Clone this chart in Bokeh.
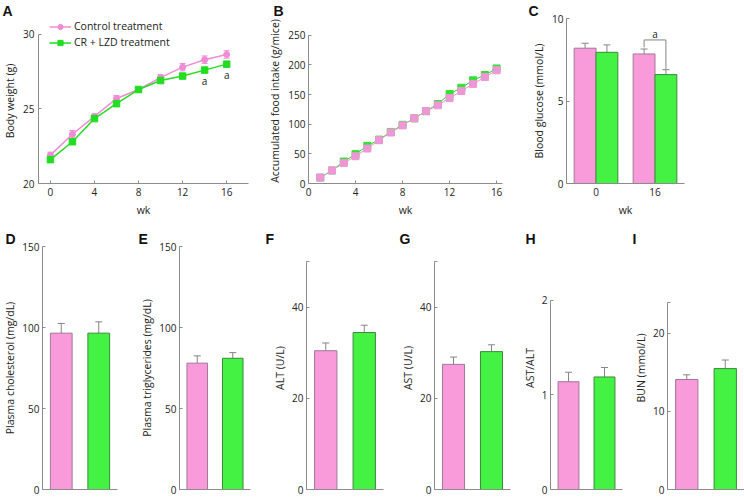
from bokeh.plotting import figure
from bokeh.layouts import column, row
from bokeh.models import (ColumnDataSource, FactorRange, Range1d, FixedTicker,
                          Whisker, TeeHead, Legend, LegendItem, LinearAxis)
from bokeh.transform import dodge
from bokeh.core.properties import value
from bokeh.embed import file_html
from bokeh.resources import INLINE

# ---------------- data ----------------
# Panel A: body weight
wk_a = [0, 2, 4, 6, 8, 10, 12, 14, 16]
bw_ctrl = [21.9, 23.3, 24.5, 25.7, 26.3, 27.1, 27.8, 28.3, 28.65]
bw_ctrl_err = [0.2, 0.25, 0.15, 0.2, 0.1, 0.2, 0.25, 0.25, 0.25]
bw_cr = [21.6, 22.8, 24.35, 25.35, 26.3, 26.9, 27.2, 27.6, 28.0]
bw_cr_err = [0.15, 0.1, 0.1, 0.1, 0.1, 0.1, 0.1, 0.1, 0.1]
sig_wk_a = [14, 16]
sig_cr_a = [27.6, 28.0]

# Panel B: accumulated food intake
wk_b = [1, 2, 3, 4, 5, 6, 7, 8, 9, 10, 11, 12, 13, 14, 15, 16]
food_ctrl = [10, 22, 34.5, 46, 59, 73, 86, 98, 110, 122, 132, 144, 156, 168, 179.5, 191]
food_cr = [10, 22, 37, 49.5, 63.5, 74, 87, 99, 110, 122, 134, 151, 161.5, 174, 183, 194]

# Panel C: blood glucose
glu_wk = ["0", "16"]
glu_ctrl = [8.2, 7.85]
glu_ctrl_err = [0.3, 0.3]
glu_cr = [7.95, 6.6]
glu_cr_err = [0.45, 0.3]

# Panels D-I
groups = ["Control treatment", "CR + LZD treatment"]
chol = [96.5, 96.5]
chol_err = [6.0, 7.0]
tg = [78.0, 81.0]
tg_err = [4.5, 3.5]
alt = [30.5, 34.5]
alt_err = [1.7, 1.6]
ast = [27.5, 30.3]
ast_err = [1.6, 1.5]
ratio = [1.14, 1.19]
ratio_err = [0.1, 0.1]
bun = [14.1, 15.5]
bun_err = [0.6, 1.1]

# ---------------- style ----------------
FONT = "Open Sans"
LETTER_FONT = "Liberation Sans"
PINK = "#F99ADB"
PINK_LINE = "#F08CD4"
PINK_EDGE = "#A07896"
GREEN = "#44F244"
GREEN_LINE = "#22DD22"
GREEN_EDGE = "#3A8A3A"
AXIS = "#8C8C8C"
ERR = "#858585"
TXT = "#222222"


def style_axis(ax):
    ax.axis_line_color = AXIS
    ax.major_tick_line_color = AXIS
    ax.minor_tick_line_color = None
    ax.major_tick_in = 3
    ax.major_tick_out = 0
    ax.major_label_text_font = FONT
    ax.major_label_text_font_size = "10px"
    ax.major_label_text_color = TXT
    ax.axis_label_text_font = FONT
    ax.axis_label_text_font_size = "10.5px"
    ax.axis_label_text_font_style = "normal"
    ax.axis_label_text_color = TXT
    ax.major_label_standoff = 3
    ax.axis_label_standoff = 3


def new_fig(w, h, l, r, t, b, xr, yr, x_axis=True):
    kw = {} if x_axis else {"x_axis_type": None}
    p = figure(width=w, height=h, x_range=xr, y_range=yr, output_backend="svg",
               toolbar_location=None, min_border_left=l, min_border_right=r,
               min_border_top=t, min_border_bottom=b, **kw)
    p.grid.visible = False
    p.outline_line_color = None
    p.background_fill_color = "white"
    p.border_fill_color = "white"
    for ax in p.axis:
        style_axis(ax)
    return p


def letter(p, txt, off):
    p.title.text = txt
    p.title.align = "left"
    p.title.offset = off
    p.title.standoff = 0
    p.title.text_font = LETTER_FONT
    p.title.text_font_size = "14px"
    p.title.text_font_style = "bold"
    p.title.text_color = "#111111"


def add_whisker(p, src, base, lower, upper, color=ERR, both=False, size=7):
    w = Whisker(source=src, base=base, lower=lower, upper=upper,
                line_color=color, line_width=1,
                upper_head=TeeHead(size=size, line_color=color, line_width=1),
                lower_head=TeeHead(size=size, line_color=color, line_width=1) if both else None)
    p.add_layout(w)


ROW1_H, ROW1_T, ROW1_B = 228, 16, 45
ROW2_H, ROW2_T, ROW2_B = 271, 18, 10

# ---------------- Panel A ----------------
pA = new_fig(250, ROW1_H, 36, 2, ROW1_T, ROW1_B, Range1d(-1.08, 17.98), Range1d(20, 31.06))
pA.yaxis.ticker = FixedTicker(ticks=[20, 25, 30])
pA.yaxis.bounds = (20, 30)
pA.yaxis.axis_label = "Body weight (g)"
pA.yaxis.major_label_standoff = 4
pA.xaxis.ticker = FixedTicker(ticks=[0, 4, 8, 12, 16])
pA.xaxis.axis_label = "wk"
pA.xaxis.major_label_standoff = 4
pA.xaxis.axis_label_standoff = 4

srcA = ColumnDataSource(dict(
    wk=wk_a, ctrl=bw_ctrl, cr=bw_cr,
    ctrl_lo=[v - e for v, e in zip(bw_ctrl, bw_ctrl_err)],
    ctrl_hi=[v + e for v, e in zip(bw_ctrl, bw_ctrl_err)],
    cr_lo=[v - e for v, e in zip(bw_cr, bw_cr_err)],
    cr_hi=[v + e for v, e in zip(bw_cr, bw_cr_err)],
))
add_whisker(pA, srcA, "wk", "ctrl_lo", "ctrl_hi", color=PINK_LINE, both=True, size=6)
lc = pA.line("wk", "ctrl", source=srcA, line_color=PINK_LINE, line_width=1.5)
sc = pA.scatter("wk", "ctrl", source=srcA, marker="circle", size=6,
                fill_color=PINK_LINE, line_color=PINK_LINE)
add_whisker(pA, srcA, "wk", "cr_lo", "cr_hi", color=GREEN_LINE, both=True, size=6)
lg = pA.line("wk", "cr", source=srcA, line_color=GREEN_LINE, line_width=1.5)
sg = pA.scatter("wk", "cr", source=srcA, marker="square", size=6.5,
                fill_color=GREEN_LINE, line_color=GREEN_LINE)
pA.text(x=sig_wk_a, y=[v - 0.75 for v in sig_cr_a], text=["a", "a"],
        text_font=value(FONT), text_font_size="10px", text_align="center",
        text_baseline="middle", text_color=TXT)
legA = Legend(items=[LegendItem(label="Control treatment", renderers=[lc, sc]),
                     LegendItem(label="CR + LZD treatment", renderers=[lg, sg])],
              location=(11, 134), orientation="vertical", padding=0, spacing=2,
              margin=0, glyph_width=22, glyph_height=13, label_height=13,
              label_standoff=3, border_line_color=None, background_fill_alpha=0,
              label_text_font=FONT, label_text_font_size="10.5px",
              label_text_color=TXT)
pA.add_layout(legA)
letter(pA, "A", -36)

# ---------------- Panel B ----------------
pB = new_fig(255, ROW1_H, 58, 3, ROW1_T, ROW1_B, Range1d(0, 16.5), Range1d(0, 278.3))
pB.yaxis.ticker = FixedTicker(ticks=[0, 50, 100, 150, 200, 250])
pB.yaxis.bounds = (0, 250)
pB.xaxis.ticker = FixedTicker(ticks=[0, 4, 8, 12, 16])
pB.xaxis.axis_label = "wk"
pB.yaxis.axis_label = "Accumulated food intake (g/mice)"
pB.xaxis.major_label_standoff = 4
pB.xaxis.axis_label_standoff = 4
srcB = ColumnDataSource(dict(wk=wk_b, ctrl=food_ctrl, cr=food_cr))
pB.line("wk", "cr", source=srcB, line_color=GREEN_LINE, line_width=1)
pB.scatter("wk", "cr", source=srcB, marker="square", size=7,
           fill_color="#33E033", line_color="#33E033")
pB.line("wk", "ctrl", source=srcB, line_color=PINK_LINE, line_width=1)
pB.scatter("wk", "ctrl", source=srcB, marker="square", size=7,
           fill_color="#EE96D6", line_color="#EE96D6")
letter(pB, "B", -35)

# ---------------- Panel C ----------------
pC = new_fig(239, ROW1_H, 61, 60, ROW1_T, ROW1_B, FactorRange(factors=glu_wk), Range1d(0, 10))
pC.yaxis.ticker = FixedTicker(ticks=[0, 5, 10])
pC.yaxis.axis_label = "Blood glucose (mmol/L)"
pC.xaxis.axis_label = "wk"
pC.xaxis.major_tick_in = 0
pC.xaxis.major_tick_out = 0
pC.xaxis.major_label_standoff = 4
pC.xaxis.axis_label_standoff = 4
glu_ctrl_hi = [v + e for v, e in zip(glu_ctrl, glu_ctrl_err)]
glu_cr_hi = [v + e for v, e in zip(glu_cr, glu_cr_err)]
srcC = ColumnDataSource(dict(wk=glu_wk, ctrl=glu_ctrl, cr=glu_cr,
                             ctrl_hi=glu_ctrl_hi, cr_hi=glu_cr_hi))
dl = dodge("wk", -0.185, range=pC.x_range)
dr = dodge("wk", 0.185, range=pC.x_range)
pC.vbar(x=dl, top="ctrl", width=0.37, source=srcC, fill_color=PINK,
        line_color=PINK_EDGE, line_width=1)
pC.vbar(x=dr, top="cr", width=0.37, source=srcC, fill_color=GREEN,
        line_color=GREEN_EDGE, line_width=1)
add_whisker(pC, srcC, dl, "ctrl", "ctrl_hi")
add_whisker(pC, srcC, dr, "cr", "cr_hi")
br_top = glu_ctrl_hi[1] + 0.55
pC.line(x=[("16", -0.185), ("16", -0.185), ("16", 0.185), ("16", 0.185)],
        y=[glu_ctrl_hi[1] + 0.1, br_top, br_top, glu_cr_hi[1] + 0.05],
        line_color=ERR, line_width=1)
pC.text(x=[("16", 0.0)], y=[br_top + 0.35], text=["a"], text_font=value(FONT),
        text_font_size="10px", text_align="center", text_baseline="middle",
        text_color=TXT)
letter(pC, "C", -38)


# ---------------- Panels D-I ----------------
def bar_panel(w, l, r, ylabel, vals, errs, ytop, ymax, ticks, top_minor, let, off):
    p = new_fig(w, ROW2_H, l, r, ROW2_T, ROW2_B, FactorRange(factors=groups),
                Range1d(0, ytop), x_axis=False)
    xax = LinearAxis(ticker=FixedTicker(ticks=[]))
    style_axis(xax)
    xax.major_tick_in = 0
    xax.major_label_standoff = 0
    p.add_layout(xax, "below")
    p.yaxis.ticker = FixedTicker(ticks=ticks, minor_ticks=top_minor)
    p.yaxis.bounds = (0, ymax)
    p.yaxis.minor_tick_line_color = AXIS
    p.yaxis.minor_tick_in = 3
    p.yaxis.minor_tick_out = 0
    p.yaxis.axis_label = ylabel
    p.yaxis.axis_label_standoff = 2
    src = ColumnDataSource(dict(grp=groups, val=vals,
                                hi=[v + e for v, e in zip(vals, errs)],
                                fill=[PINK, GREEN], edge=[PINK_EDGE, GREEN_EDGE]))
    p.vbar(x="grp", top="val", width=0.58, source=src, fill_color="fill",
           line_color="edge", line_width=1)
    add_whisker(p, src, "grp", "val", "hi")
    letter(p, let, off)
    return p


pD = bar_panel(130, 40, 13, "Plasma cholesterol (mg/dL)", chol, chol_err,
               150, 150, [0, 50, 100, 150], [], "D", -37)
pE = bar_panel(135, 49, 15, "Plasma triglycerides (mg/dL)", tg, tg_err,
               150, 150, [0, 50, 100, 150], [], "E", -41)
pF = bar_panel(133, 41, 15, "ALT (U/L)", alt, alt_err,
               53.4, 50, [0, 20, 40], [50], "F", -41)
pG = bar_panel(121, 35, 9, "AST (U/L)", ast, ast_err,
               53.4, 50, [0, 20, 40], [50], "G", -35)
pH = bar_panel(111, 25, 8, "AST/ALT", ratio, ratio_err,
               2.57, 2, [0, 1, 2], [], "H", -25)
pI = bar_panel(114, 37, 0, "BUN (mmol/L)", bun, bun_err,
               31.15, 24, [0, 10, 20], [24], "I", -35)

layout = column(row(pA, pB, pC, spacing=0), row(pD, pE, pF, pG, pH, pI, spacing=0),
                spacing=0)

open("out.html", "w").write(file_html(layout, INLINE))
